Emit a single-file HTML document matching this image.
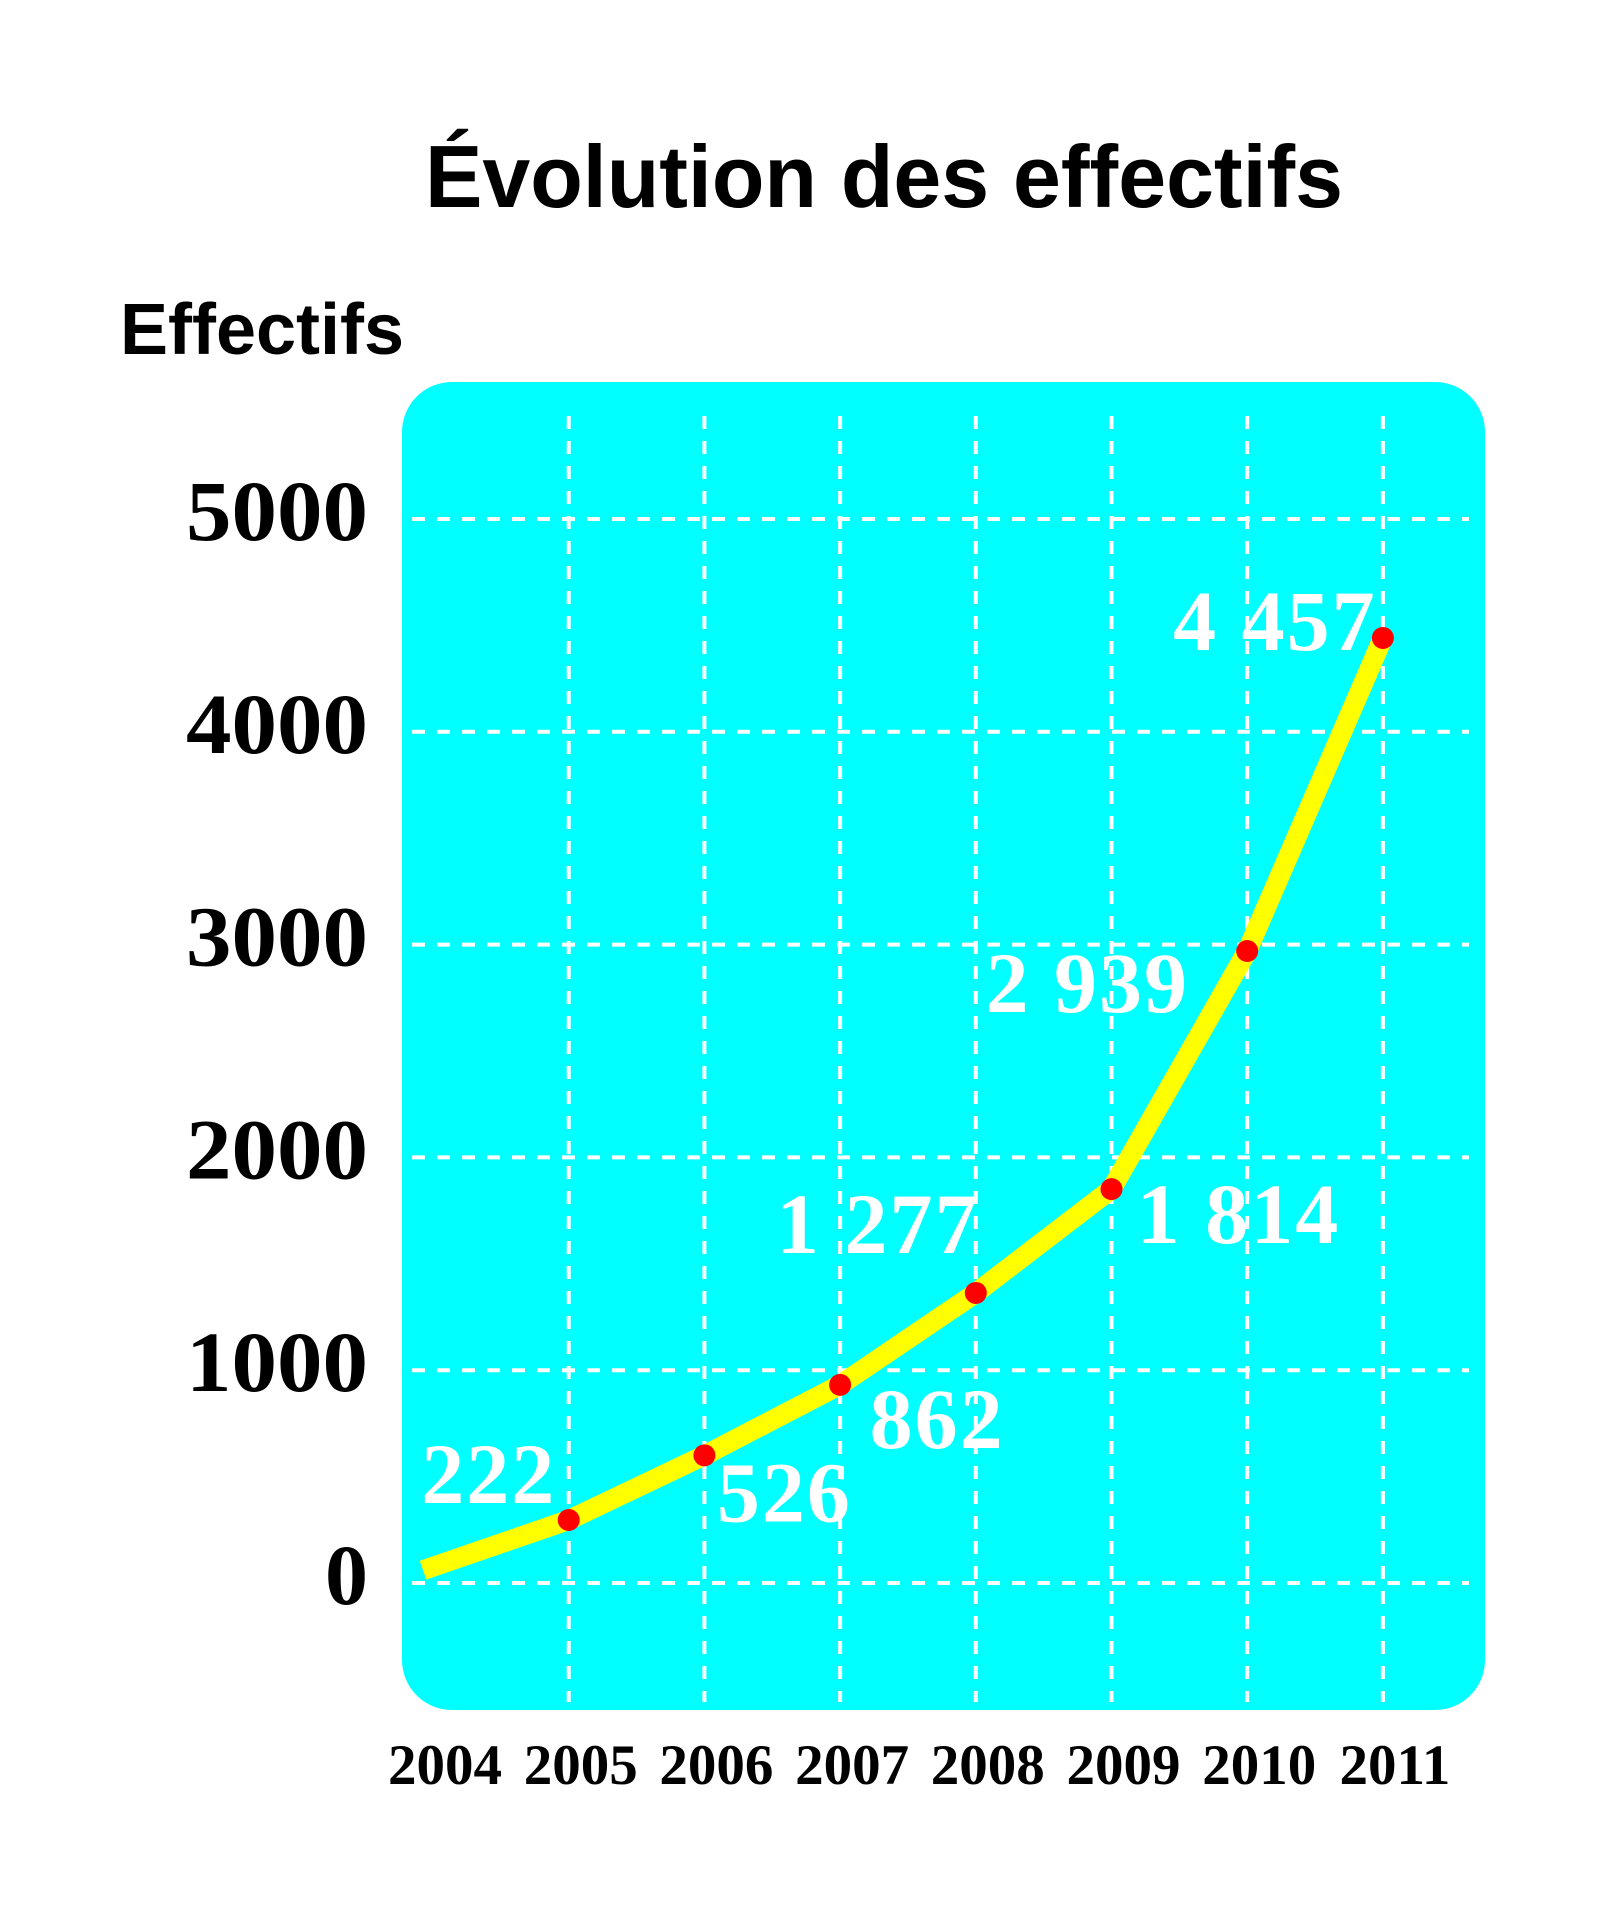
<!DOCTYPE html>
<html><head><meta charset="utf-8"><style>
html,body{margin:0;padding:0;background:#fff;}
svg{display:block;}
</style></head><body>
<svg id="chart" width="1604" height="1919" viewBox="0 0 1604 1919" xmlns="http://www.w3.org/2000/svg">
<text x="425" y="207" textLength="918" lengthAdjust="spacingAndGlyphs" font-family="Liberation Sans, sans-serif" font-weight="bold" font-size="88" fill="#000">Évolution des effectifs</text>
<text x="120" y="354" textLength="284" lengthAdjust="spacingAndGlyphs" font-family="Liberation Sans, sans-serif" font-weight="bold" font-size="72" fill="#000">Effectifs</text>
<rect x="402" y="382" width="1083" height="1328" rx="50" ry="50" fill="#00ffff"/>
<g id="grid"></g>
<g id="yticks"></g>
<g id="xticks"></g>
<g id="series"></g>
<g id="labels"></g>
</svg>
<script>
const years = ["2004","2005","2006","2007","2008","2009","2010","2011"];
const values = [60, 296, 600, 931, 1363, 1851, 2970, 4441];
const valueLabels = ["", "222", "526", "862", "1 277", "1 814", "2 939", "4 457"];
const yTicks = [0, 1000, 2000, 3000, 4000, 5000];
const yTickLabels = ["0", "1000", "2000", "3000", "4000", "5000"];

const NS = "http://www.w3.org/2000/svg";
function xScale(i){ return 433 + i * 135.7; }
function yScale(v){ return 1583 - v * (1583 - 519) / 5000; }
function mk(tag, attrs, parent){
  const el = document.createElementNS(NS, tag);
  for (const k in attrs) el.setAttribute(k, attrs[k]);
  parent.appendChild(el);
  return el;
}
const grid = document.getElementById('grid');
yTicks.forEach((t, i) => {
  const l = mk('line', {x1:412, x2:1469, y1:yScale(t), y2:yScale(t), stroke:'#fff', 'stroke-width':4, 'stroke-dasharray':'13 12'}, grid);
  
  
});
for (let i = 1; i < years.length; i++) {
  const l = mk('line', {x1:xScale(i), x2:xScale(i), y1:416, y2:1702, stroke:'#fff', 'stroke-width':4, 'stroke-dasharray':'13 12'}, grid);
  
  
}
const yt = document.getElementById('yticks');
yTicks.forEach((t, i) => {
  const a = {x:368, y:yScale(t) + 21, 'text-anchor':'end', 'font-family':'Liberation Serif, serif', 'font-weight':'bold', 'font-size':'86', fill:'#000'};
  if (yTickLabels[i].length > 1) { a.textLength = 182; a.lengthAdjust = 'spacingAndGlyphs'; }
  const tx = mk('text', a, yt);
  
  
  tx.textContent = yTickLabels[i];
});
const xt = document.getElementById('xticks');
years.forEach((y, i) => {
  const tx = mk('text', {x:xScale(i) + 12, y:1784, 'text-anchor':'middle', 'font-family':'Liberation Serif, serif', 'font-weight':'bold', 'font-size':'57', fill:'#000'}, xt);
  
  
  tx.textContent = y;
});
const s = document.getElementById('series');
const pts = values.map((v, i) => [i === 0 ? xScale(0) - 10 : xScale(i), yScale(v)]);
const line = mk('polyline', {points: pts.map(p => p.join(',')).join(' '), fill:'none', stroke:'#ffff00', 'stroke-width':20, 'stroke-linejoin':'round'}, s);


values.forEach((v, i) => {
  if (i === 0) return;
  const c = mk('circle', {cx:xScale(i), cy:yScale(v), r:11, fill:'#ff0000'}, s);
  
  
});
const lb = document.getElementById('labels');
const offs = [[0,0],[-80,-17],[80,66],[97,63],[-98,-40],[127,54],[-160,61],[-108,12]];
valueLabels.forEach((t, i) => {
  if (!t) return;
  const tx = mk('text', {x:xScale(i) + offs[i][0], y:yScale(values[i]) + offs[i][1], 'text-anchor':'middle', 'font-family':'Liberation Serif, serif', 'font-weight':'bold', 'font-size':'86', 'letter-spacing':'2', fill:'#fff'}, lb);
  
  
  tx.textContent = t;
});
</script>
</body></html>
